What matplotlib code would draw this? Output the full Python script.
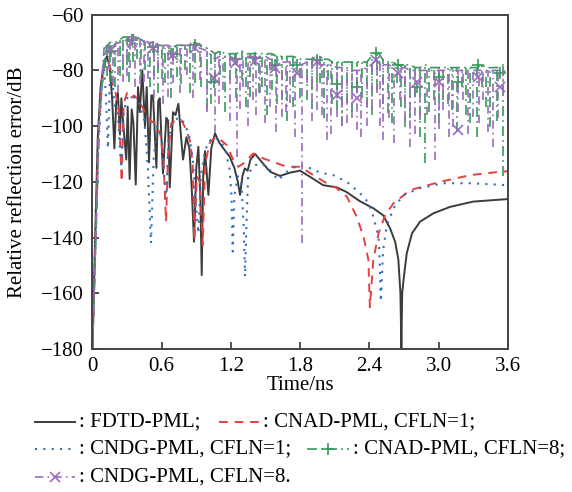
import numpy as np
import matplotlib
matplotlib.use('Agg')
import matplotlib.pyplot as plt
from matplotlib.lines import Line2D

plt.rcParams['font.family'] = ['Liberation Serif', 'DejaVu Serif']
plt.rcParams['font.size'] = 15

# DATA ######################################################################
# FDTD-PML
t_fdtd = [0.000, 0.020, 0.045, 0.070, 0.100, 0.125, 0.150, 0.170, 0.190, 0.205,
          0.220, 0.238, 0.250, 0.270, 0.293, 0.305, 0.322, 0.340, 0.355, 0.375,
          0.395, 0.410, 0.432, 0.455, 0.470, 0.490, 0.510, 0.525, 0.554, 0.570,
          0.583, 0.611, 0.640, 0.655, 0.670, 0.698, 0.720, 0.745, 0.770, 0.785,
          0.814, 0.840, 0.860, 0.880, 0.900, 0.918, 0.935, 0.947, 0.960, 0.976,
          1.005, 1.030, 1.062, 1.100, 1.135, 1.190, 1.230, 1.260, 1.279, 1.300,
          1.320, 1.345, 1.370, 1.410, 1.470, 1.540, 1.626, 1.713, 1.800, 1.886,
          2.000, 2.118, 2.200, 2.320, 2.435, 2.520, 2.580, 2.624, 2.652, 2.670,
          2.678, 2.685, 2.700, 2.725, 2.770, 2.840, 2.956, 3.100, 3.300, 3.600]
db_fdtd = [-180, -145, -105, -86, -77, -75, -79, -90, -108, -92,
           -88, -103, -90, -101, -112, -93, -119, -94, -99, -121,
           -86, -95, -80, -100, -86, -113, -89, -89, -115, -91,
           -90, -117, -97, -98, -122, -95, -96, -92, -105, -112,
           -104, -108, -122, -141.5, -115, -107.4, -125, -153.5, -118, -109,
           -124.7, -108, -102.6, -106, -108, -111, -115, -120, -124.7, -118,
           -115.2, -116, -112, -110, -113, -116.4, -117.9, -116.7, -116, -118.2,
           -121.2, -122, -123.6, -127, -129.5, -132, -136.7, -141.5, -148, -160,
           -179.7, -160, -154, -145.6, -138.5, -134.3, -131.3, -129, -127.1, -126.2]

# CNAD-PML, CFLN=1
t_cnad1 = [0.000, 0.020, 0.050, 0.080, 0.110, 0.134, 0.160, 0.178, 0.200, 0.230,
           0.253, 0.270, 0.300, 0.330, 0.360, 0.395, 0.430, 0.467, 0.500, 0.540,
           0.590, 0.615, 0.638, 0.655, 0.683, 0.720, 0.770, 0.814, 0.850, 0.870,
           0.883, 0.905, 0.930, 0.956, 0.975, 0.990, 1.020, 1.077, 1.164, 1.221,
           1.265, 1.308, 1.395, 1.480, 1.684, 1.800, 1.915, 2.030, 2.118, 2.205,
           2.290, 2.350, 2.392, 2.405, 2.435, 2.480, 2.537, 2.610, 2.754, 3.014,
           3.274, 3.534, 3.600]
db_cnad1 = [-180, -150, -105, -85, -77, -75.7, -80, -86, -88, -95,
            -120, -92, -88, -90, -89, -90.5, -93, -96, -98, -99,
            -103, -112, -134.3, -110, -99, -98, -97.8, -101.4, -106, -115,
            -141, -118, -120, -142.7, -115, -111, -105.6, -103.8, -106.8, -112.2,
            -114.6, -113.4, -109.8, -111.6, -114.6, -114.6, -117.6, -120.5, -122.3, -125.3,
            -132.5, -139.7, -148, -165, -148, -138.5, -132, -127.7, -123, -120,
            -117.6, -116.4, -116.2]

# CNDG-PML, CFLN=1
t_cndg1 = [0.000, 0.020, 0.050, 0.080, 0.100, 0.115, 0.134, 0.150, 0.165, 0.190,
           0.220, 0.250, 0.270, 0.300, 0.340, 0.400, 0.450, 0.480, 0.507, 0.530,
           0.560, 0.600, 0.625, 0.640, 0.660, 0.700, 0.750, 0.800, 0.840, 0.870,
           0.890, 0.918, 0.940, 0.970, 1.000, 1.050, 1.100, 1.150, 1.190, 1.205,
           1.216, 1.230, 1.260, 1.290, 1.310, 1.323, 1.335, 1.350, 1.410, 1.467,
           1.540, 1.610, 1.684, 1.785, 1.858, 1.973, 2.088, 2.205, 2.320, 2.392,
           2.435, 2.480, 2.490, 2.500, 2.520, 2.550, 2.610, 2.696, 2.840, 3.040,
           3.274, 3.600]
db_cndg1 = [-180, -148, -108, -86, -79, -88, -108, -84, -80, -92,
            -96, -115, -95, -90, -89, -91, -98, -115, -142, -112,
            -100, -104, -120, -125, -104, -98, -97, -99, -104, -112,
            -125, -138.5, -118, -110, -106, -104, -105, -108, -115.8, -125,
            -145, -125, -118, -120, -135, -154, -135, -117, -114, -113.4,
            -115.8, -119.4, -116.4, -114, -114.6, -116.7, -117.6, -120, -124.1, -127.4,
            -132.5, -139.7, -148, -163, -144.5, -136, -129.5, -124.7, -122.3, -120.5,
            -120.5, -121.2]

# CNAD-PML, CFLN=8 : rise, then spikes (time, upper level, spike bottom)
t_cnad8 = [0.000, 0.030, 0.060, 0.108, 0.152, 0.239, 0.296, 0.348, 0.383, 0.455,
           0.533, 0.600, 0.629, 0.730, 0.800, 0.889, 0.990, 1.062, 1.106, 1.193,
           1.294, 1.366, 1.410, 1.467, 1.554, 1.641, 1.742, 1.858, 1.944, 1.973,
           2.045, 2.118, 2.205, 2.290, 2.378, 2.465, 2.566, 2.638, 2.710, 2.797,
           2.884, 2.957, 3.043, 3.115, 3.202, 3.274, 3.375, 3.447, 3.563, 3.600]
top_cnad8 = [-180, -140, -98, -72, -70, -69, -68, -67, -68, -70,
             -70, -71, -72, -71, -71, -70, -72, -74, -73, -74,
             -73, -74, -74, -74, -74, -75, -75, -76, -75, -75,
             -76, -77, -77, -77, -77, -73, -77, -78, -78, -79,
             -78, -79, -79, -79, -79, -79, -78, -79, -78, -79]
bot_cnad8 = [-180, -140, -98, -79, -84, -82, -78, -77, -76, -80,
             -82, -83, -84.7, -82.3, -80, -84.7, -94, -84, -81.7, -83.5,
             -83.5, -89.4, -78, -85.8, -87, -90.6, -93, -90.6, -84.7, -84.7,
             -83.5, -94.2, -91.8, -85.8, -93, -87, -95.4, -84.7, -100.2, -89.4,
             -113.4, -90.6, -90.6, -94.2, -85.8, -99, -85.8, -100.2, -118, -79]
# smaller spikes in between
t_cnad8_s = [0.130, 0.195, 0.268, 0.320, 0.420, 0.495, 0.565, 0.680, 0.765, 0.845,
             0.940, 1.030, 1.150, 1.245, 1.330, 1.440, 1.510, 1.600, 1.690, 1.800,
             1.900, 2.010, 2.080, 2.160, 2.250, 2.335, 2.420, 2.515, 2.600, 2.675,
             2.755, 2.840, 2.920, 3.000, 3.080, 3.160, 3.240, 3.330, 3.410, 3.510]
top_cnad8_s = [-71, -70, -68, -68, -69, -70, -71, -72, -71, -71,
               -71, -73, -74, -74, -74, -74, -74, -75, -75, -76,
               -76, -76, -77, -77, -77, -77, -75, -76, -77, -78,
               -78, -79, -79, -79, -79, -79, -79, -79, -79, -79]
bot_cnad8_s = [-82, -86, -80, -84, -83, -86, -88, -90, -85, -88,
               -86, -92, -95, -90, -93, -88, -96, -92, -98, -90,
               -94, -97, -92, -100, -95, -90, -96, -92, -99, -93,
               -97, -104, -95, -99, -92, -102, -96, -104, -93, -98]

# CNDG-PML, CFLN=8
t_cndg8 = [0.000, 0.030, 0.060, 0.100, 0.181, 0.267, 0.325, 0.412, 0.484, 0.571,
           0.658, 0.701, 0.817, 0.933, 1.062, 1.135, 1.250, 1.308, 1.395, 1.453,
           1.540, 1.641, 1.713, 1.814, 1.858, 1.944, 2.030, 2.118, 2.205, 2.290,
           2.378, 2.465, 2.522, 2.610, 2.667, 2.754, 2.840, 2.970, 3.043, 3.130,
           3.216, 3.303, 3.390, 3.476, 3.563, 3.600]
top_cndg8 = [-180, -138, -96, -72, -71, -70, -68, -69, -70, -71,
             -71, -72, -71, -72, -76, -75, -76, -75, -75, -75,
             -76, -77, -77, -78, -77, -77, -78, -79, -80, -80,
             -79, -76, -78, -79, -79, -80, -80, -80, -80, -80,
             -80, -80, -80, -80, -80, -81]
bot_cndg8 = [-180, -138, -96, -72, -85, -84, -79, -85, -83, -79,
             -89.4, -84.7, -81.7, -83.5, -102.6, -87, -111, -85.8, -90.6, -88.2,
             -93, -96.6, -91.8, -142, -84.7, -94.2, -105, -96.6, -99, -101.4,
             -100, -88.2, -105, -106.2, -90.6, -107.4, -97.8, -112, -94.2, -100.2,
             -90.6, -96.6, -90.6, -107.4, -88.2, -81]
t_cndg8_s = [0.140, 0.225, 0.295, 0.370, 0.450, 0.530, 0.615, 0.760, 0.875, 0.990,
             1.100, 1.190, 1.280, 1.350, 1.420, 1.500, 1.590, 1.680, 1.760, 1.900,
             1.990, 2.070, 2.160, 2.250, 2.330, 2.420, 2.490, 2.570, 2.710, 2.800,
             2.900, 3.000, 3.090, 3.170, 3.260, 3.350, 3.430, 3.520]
top_cndg8_s = [-71, -70, -69, -68, -69, -70, -71, -71, -71, -73,
               -75, -75, -76, -75, -75, -75, -76, -77, -77, -77,
               -78, -78, -79, -80, -80, -78, -77, -78, -79, -80,
               -80, -80, -80, -80, -80, -80, -80, -80]
bot_cndg8_s = [-80, -88, -82, -86, -84, -90, -92, -88, -90, -95,
               -92, -98, -94, -100, -96, -99, -102, -95, -104, -98,
               -96, -103, -100, -97, -104, -94, -100, -97, -98, -103,
               -96, -101, -104, -95, -103, -99, -102, -97]

# marker positions on the CFLN=8 curves
t_mark = [0.160, 0.340, 0.525, 0.700, 0.886, 1.050, 1.235, 1.410, 1.580, 1.770,
          1.944, 2.118, 2.290, 2.460, 2.652, 2.810, 3.000, 3.173, 3.346, 3.534]
mark_cnad8 = [-73, -69, -71.5, -74, -70.9, -84, -76, -75.7, -78, -78,
              -76.3, -85, -86, -73.9, -78.1, -85.8, -82.3, -84, -78.1, -81]
mark_cndg8 = [-72.7, -69.7, -72.1, -74.5, -72, -82.9, -77.5, -76.5, -79, -81,
              -76.9, -88.8, -90, -76.3, -81, -84, -84, -101.4, -82.3, -85.9]

labels = [': FDTD-PML;', ': CNAD-PML, CFLN=1;', ': CNDG-PML, CFLN=1;',
          ': CNAD-PML, CFLN=8;', ': CNDG-PML, CFLN=8.']

# STYLES ####################################################################
C_FDTD = '#3c3c3c'
C_CNAD1 = '#e6403f'
C_CNDG1 = '#2f6dbd'
C_CNAD8 = '#35995a'
C_CNDG8 = '#9a6bbb'

st_fdtd = dict(color=C_FDTD, lw=1.4, ls='-')
st_cnad1 = dict(color=C_CNAD1, lw=1.4, ls=(0, (4.5, 3.5)))
st_cndg1 = dict(color=C_CNDG1, lw=1.5, ls=(0, (1, 3)))
st_cnad8 = dict(color=C_CNAD8, lw=1.2, ls=(0, (6, 2.5, 1, 2.5)))
st_cndg8 = dict(color=C_CNDG8, lw=1.2, ls=(0, (5, 2.5, 1, 2.5)))


def spiky(ax, t, top, bot, t_s, top_s, bot_s, st):
    # upper level through all spike tops, then the spikes as vertical lines
    tt = np.concatenate([t, t_s])
    order = np.argsort(tt)
    lev = np.concatenate([top, top_s])[order]
    ax.plot(tt[order], lev, **st)
    ax.vlines(np.concatenate([t, t_s]), np.concatenate([bot, bot_s]),
              np.concatenate([top, top_s]), colors=st['color'], lw=st['lw'],
              linestyles=[st['ls']])


# FIGURE ####################################################################
fig = plt.figure(figsize=(5.72, 4.92), dpi=100)
ax = fig.add_axes([0.1617, 0.2907, 0.7259, 0.6795])

ax.plot(t_fdtd, db_fdtd, **st_fdtd)
ax.plot(t_cnad1, db_cnad1, **st_cnad1)
ax.plot(t_cndg1, db_cndg1, **st_cndg1)

spiky(ax, t_cnad8, top_cnad8, bot_cnad8, t_cnad8_s, top_cnad8_s, bot_cnad8_s, st_cnad8)
ax.plot(t_mark, mark_cnad8, ls='none', marker='+', ms=9, mew=1.2, color=C_CNAD8)

spiky(ax, t_cndg8, top_cndg8, bot_cndg8, t_cndg8_s, top_cndg8_s, bot_cndg8_s, st_cndg8)
ax.plot(t_mark, mark_cndg8, ls='none', marker='x', ms=7.5, mew=1.2, color=C_CNDG8)

ax.set_xlim(0, 3.6)
ax.set_ylim(-180, -60)
ax.set_xticks([0, 0.6, 1.2, 1.8, 2.4, 3.0, 3.6])
ax.set_xticklabels(['0', '0.6', '1.2', '1.8', '2.4', '3.0', '3.6'])
ax.set_yticks(np.arange(-180, -59, 20))
ax.tick_params(direction='in', length=5, width=1.2, color='#333333', pad=6)
for s in ax.spines.values():
    s.set_linewidth(1.4)
    s.set_color('#444444')

fig.text(300 / 572, 1 - 386 / 492, 'Time/ns', ha='center', va='center')
fig.text(18 / 572, 1 - 182 / 492, 'Relative reflection error/dB',
         rotation=90, ha='center', va='center')

# LEGEND (drawn by hand, flowing like text) #################################
W, H = 572.0, 492.0


def legend_entry(x0, x1, yc, style, label, marker=None, ms=8):
    y = 1 - yc / H
    ln = Line2D([x0 / W, x1 / W], [y, y], transform=fig.transFigure, **style)
    fig.add_artist(ln)
    if marker:
        mk = Line2D([(x0 + x1) / 2 / W], [y], transform=fig.transFigure,
                    ls='none', marker=marker, ms=ms, mew=1.2, color=style['color'])
        fig.add_artist(mk)
    fig.text((x1 + 4) / W, y, label, ha='left', va='center')


legend_entry(35, 75, 421.5, st_fdtd, labels[0])
legend_entry(219, 259, 421.5, st_cnad1, labels[1])
legend_entry(35, 75, 449, st_cndg1, labels[2])
legend_entry(307, 349, 449, st_cnad8, labels[3], marker='+', ms=9)
legend_entry(35, 75, 477, st_cndg8, labels[4], marker='x', ms=7)

fig.savefig('out.png', dpi=100)
